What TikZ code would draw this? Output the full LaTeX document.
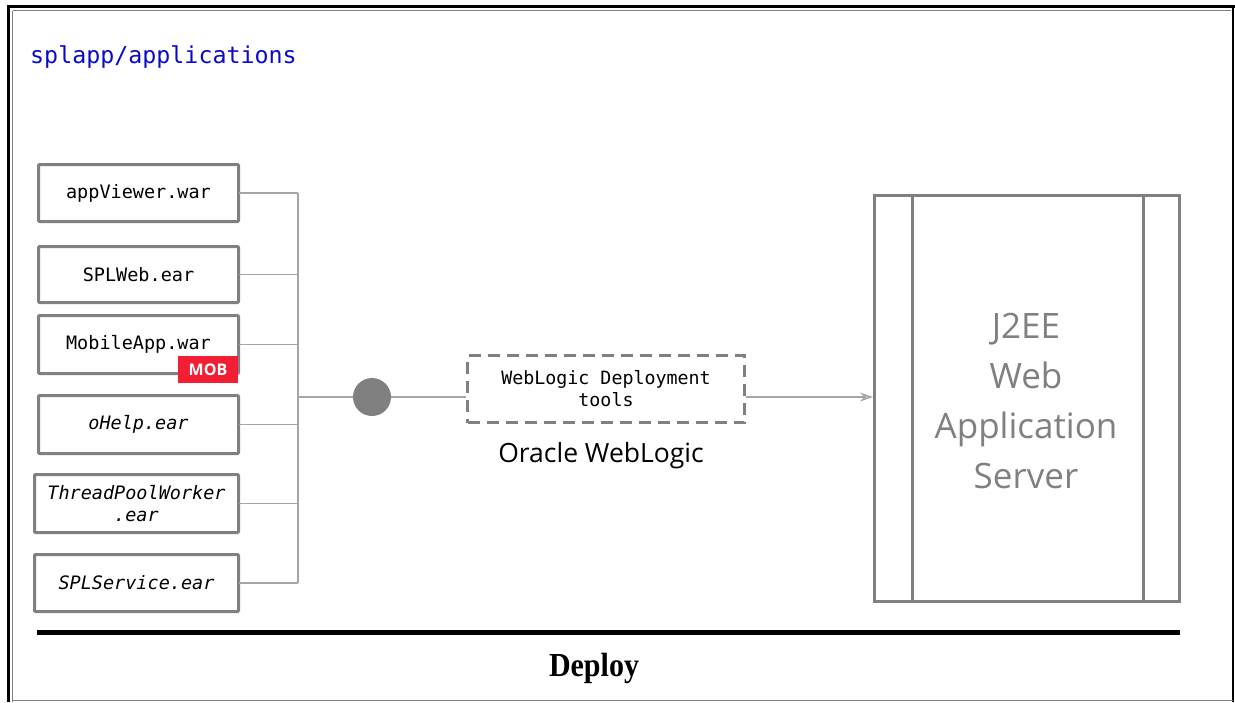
\documentclass[tikz,border=0pt]{standalone}
\usepackage{fontspec}
\setmainfont{Open Sans}
\newfontfamily\monof{DejaVu Sans Mono}
\newfontfamily\seriff{Liberation Serif}
\usetikzlibrary{arrows.meta}
\definecolor{boxgray}{RGB}{128,128,128}
\definecolor{linegray}{RGB}{165,165,165}
\definecolor{mobred}{RGB}{242,30,52}
\definecolor{pathblue}{RGB}{10,10,200}
\begin{document}
\begin{tikzpicture}[x=1pt,y=-1pt,
  filebox/.style={draw=boxgray,line width=3pt,rounded corners=1pt,inner sep=0pt,outer sep=0pt,
    minimum width=200pt,align=center,font=\monof\fontsize{18.5}{22}\selectfont},
  conn/.style={draw=linegray,line width=1.5pt},
  srvline/.style={draw=boxgray,line width=3pt}]
\useasboundingbox (0,0) rectangle (1235,702);
% outer frame
\draw[line width=3pt,black] (8.5,5) -- (8.5,702);
\draw[line width=3pt,black] (7,6.5) -- (1235,6.5);
\draw[line width=2pt,black] (1233,6) -- (1233,702);
\draw[line width=1pt,boxgray] (12.5,10.5) -- (1231,10.5);
\draw[line width=1pt,boxgray] (12.5,10.5) -- (12.5,702);
\draw[line width=1.5pt,boxgray] (12,700.5) -- (1233,700.5);
% title
\node[anchor=west,text=pathblue,font=\monof\fontsize{23.3}{28}\selectfont,inner sep=0pt] (title) at (30,57) {splapp/applications};
% file boxes
\node[filebox,minimum height=57pt] (app) at (138.5,193) {\raisebox{-1pt}{appViewer.war}};
\node[filebox,minimum height=56pt] (web) at (138.5,274.5) {\raisebox{-1pt}{SPLWeb.ear}};
\node[filebox,minimum height=58pt] (mob) at (138.5,344.5) {\raisebox{-1pt}{MobileApp.war}};
\node[filebox,minimum height=58pt,font=\monof\itshape\fontsize{18.5}{22}\selectfont] (ohelp) at (138.5,424.5) {\raisebox{-1pt}{oHelp.ear}};
\node[filebox,minimum height=58pt,minimum width=204pt,font=\monof\itshape\fontsize{18.5}{22}\selectfont] (tpw) at (136.5,503.5) {ThreadPoolWorker\\.ear};
\node[filebox,minimum height=57pt,minimum width=204pt,font=\monof\itshape\fontsize{18.5}{22}\selectfont] (svc) at (136.5,583) {\raisebox{-1pt}{SPLService.ear}};
\node[fill=mobred,text=white,minimum width=60pt,minimum height=27pt,inner sep=0pt,font=\bfseries\fontsize{16}{18}\selectfont] (badge) at (208,369.5) {MOB};
% bus
\coordinate (bt) at (298,193);
\coordinate (bb) at (298,583);
\coordinate (bm) at (298,397);
\draw[conn] (bt) -- (bb);
\foreach \n in {app,web,mob,ohelp,tpw,svc}{\draw[conn] (\n.east) -- (\n.east -| bt);}
\node[circle,fill=boxgray,minimum size=38pt,inner sep=0pt] (dot) at (372,397) {};
\draw[conn] (bm) -- (dot);
% weblogic tools
\node[draw=boxgray,line width=3pt,dash pattern=on 12pt off 7pt,minimum width=277pt,minimum height=67pt,inner sep=0pt,align=center,font=\monof\fontsize{18.3}{22}\selectfont] (wl) at (606,389) {WebLogic Deployment\\tools};
\node[font=\fontsize{26.5}{30}\selectfont,inner sep=0pt] (wllabel) at (601,456) {Oracle WebLogic};
\draw[conn] (dot) -- (dot -| wl.west);
% server
\node[srvline,minimum width=305pt,minimum height=406pt,inner sep=0pt] (srv) at (1027,398.5) {};
\draw[srvline] (912,195.5) -- (912,601.5);
\draw[srvline] (1143,195.5) -- (1143,601.5);
\node[text=boxgray,align=center,font=\fontsize{35}{50}\selectfont] (srvtext) at (1026,401) {J2EE\\Web\\Application\\Server};
\draw[conn,-{Stealth[length=13pt,width=9pt,open,line width=1.5pt]}] (dot -| wl.east) -- (dot -| srv.west);
% deploy line
\coordinate (dl) at (37,632);
\coordinate (dr) at (1180,632);
\draw[line width=5pt,black] (dl) -- (dr);
\node[font=\seriff\bfseries\fontsize{30}{34}\selectfont,inner sep=0pt,yscale=1.12] (deploy) at (594,668) {Deploy};
\end{tikzpicture}
\end{document}
